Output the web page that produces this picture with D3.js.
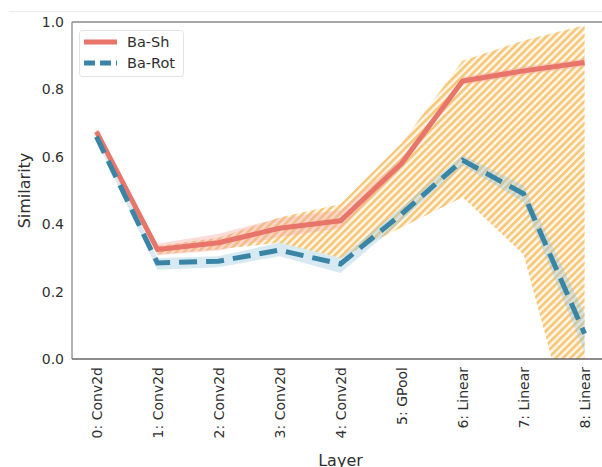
<!DOCTYPE html>
<html>
<head>
<meta charset="utf-8">
<script src="https://cdn.jsdelivr.net/npm/d3@7"></script>
<style>
  html, body { margin: 0; padding: 0; background: #fff; }
  svg { display: block; font-family: "DejaVu Sans", sans-serif; }
</style>
</head>
<body>
<svg id="chart" width="602" height="467"></svg>
<script>
// Layers along the network
const layers = ["0: Conv2d", "1: Conv2d", "2: Conv2d", "3: Conv2d", "4: Conv2d",
                "5: GPool", "6: Linear", "7: Linear", "8: Linear"];

// Ba-Sh similarity (mean and interval)
const baSh      = [0.675, 0.325, 0.345, 0.388, 0.410, 0.580, 0.825, 0.855, 0.880];
const baShLow   = [0.665, 0.308, 0.322, 0.362, 0.388, 0.568, 0.813, 0.843, 0.868];
const baShHigh  = [0.685, 0.342, 0.372, 0.418, 0.442, 0.595, 0.837, 0.867, 0.892];

// Ba-Rot similarity (mean and interval)
const baRot     = [0.660, 0.285, 0.290, 0.323, 0.282, 0.430, 0.590, 0.490, 0.075];
const baRotLow  = [0.650, 0.265, 0.272, 0.305, 0.255, 0.410, 0.575, 0.465, 0.020];
const baRotHigh = [0.670, 0.300, 0.305, 0.345, 0.300, 0.450, 0.605, 0.515, 0.135];

// Overall spread range (hatched)
const rangeLow  = [0.665, 0.310, 0.325, 0.345, 0.300, 0.390, 0.480, 0.310, -0.360];
const rangeHigh = [0.685, 0.335, 0.360, 0.420, 0.460, 0.640, 0.885, 0.945, 0.990];

const yTicks = [0.0, 0.2, 0.4, 0.6, 0.8, 1.0];

const svg = d3.select("#chart");
const plot = { left: 72, top: 22, right: 609, bottom: 359 };

const x = d3.scaleLinear().domain([-0.4, 8.4]).range([plot.left, plot.right]);
const y = d3.scaleLinear().domain([0, 1]).range([plot.bottom, plot.top]);

const idx = d3.range(layers.length);
const textColor = "#303030";

// faint frame line above the axes
svg.append("line")
  .attr("x1", 9).attr("x2", 602).attr("y1", 11.5).attr("y2", 11.5)
  .attr("stroke", "#ececec").attr("stroke-width", 1);

const defs = svg.append("defs");
defs.append("clipPath").attr("id", "plotClip")
  .append("rect")
  .attr("x", plot.left).attr("y", plot.top)
  .attr("width", plot.right - plot.left).attr("height", plot.bottom - plot.top);

const hatch = defs.append("pattern")
  .attr("id", "hatch")
  .attr("patternUnits", "userSpaceOnUse")
  .attr("width", 5.2).attr("height", 5.2)
  .attr("patternTransform", "rotate(-45)");
hatch.append("rect").attr("width", 5.2).attr("height", 5.2).attr("fill", "#fef6e8");
hatch.append("rect").attr("width", 5.2).attr("height", 2.7).attr("fill", "#f5c87c");

const g = svg.append("g").attr("clip-path", "url(#plotClip)");

const area = (lo, hi) => d3.area()
  .x(i => x(i)).y0(i => y(lo[i])).y1(i => y(hi[i]));
const line = vals => d3.line().x(i => x(i)).y(i => y(vals[i]));

// hatched range
g.append("path").datum(idx)
  .attr("d", area(rangeLow, rangeHigh))
  .attr("fill", "url(#hatch)");

// intervals
g.append("path").datum(idx)
  .attr("d", area(baShLow, baShHigh))
  .attr("fill", "#f4a8a0").attr("fill-opacity", 0.4);
g.append("path").datum(idx)
  .attr("d", area(baRotLow, baRotHigh))
  .attr("fill", "#9cc8dc").attr("fill-opacity", 0.4);

const red = "#e8756a";
const blue = "#3a85a5";

g.append("path").datum(idx)
  .attr("d", line(baSh))
  .attr("fill", "none").attr("stroke", red).attr("stroke-width", 5)
  .attr("stroke-linejoin", "round");
g.append("path").datum(idx)
  .attr("d", line(baRot))
  .attr("fill", "none").attr("stroke", blue).attr("stroke-width", 5)
  .attr("stroke-dasharray", "18,9");

// axes
const yAxis = d3.axisLeft(y).tickValues(yTicks).tickFormat(d3.format(".1f"))
  .tickSize(0).tickPadding(8);
const yg = svg.append("g").attr("transform", `translate(${plot.left},0)`).call(yAxis);
yg.select(".domain").remove();
yg.selectAll("text").attr("font-size", 14).attr("fill", textColor)
  .attr("font-family", "DejaVu Sans");

const xAxis = d3.axisBottom(x).tickValues(idx).tickFormat(i => layers[i])
  .tickSize(0).tickPadding(0);
const xg = svg.append("g").attr("transform", `translate(0,${plot.bottom})`).call(xAxis);
xg.select(".domain").remove();
xg.selectAll("text")
  .attr("font-size", 14).attr("fill", textColor).attr("font-family", "DejaVu Sans")
  .attr("text-anchor", "end")
  .attr("dy", "0.35em")
  .attr("transform", "translate(0,8) rotate(-90)")
  .attr("x", 0).attr("y", 0);

// spines
const spine = "#8a8a8a";
svg.append("line").attr("x1", plot.left).attr("x2", plot.left)
  .attr("y1", plot.top).attr("y2", plot.bottom)
  .attr("stroke", spine).attr("stroke-width", 1.3);
svg.append("line").attr("x1", plot.left).attr("x2", plot.right)
  .attr("y1", plot.bottom).attr("y2", plot.bottom)
  .attr("stroke", "#666").attr("stroke-width", 1.3);
svg.append("line").attr("x1", plot.left).attr("x2", plot.right)
  .attr("y1", plot.top).attr("y2", plot.top)
  .attr("stroke", spine).attr("stroke-width", 1.3);

// axis titles
svg.append("text")
  .attr("transform", `translate(24,${(plot.top + plot.bottom) / 2}) rotate(-90)`)
  .attr("text-anchor", "middle").attr("dy", "0.35em")
  .attr("font-size", 16).attr("fill", textColor).text("Similarity");
svg.append("text")
  .attr("x", (plot.left + plot.right) / 2).attr("y", 466)
  .attr("text-anchor", "middle")
  .attr("font-size", 16).attr("fill", textColor).text("Layer");

// legend
const lg = svg.append("g");
lg.append("rect").attr("x", 79.5).attr("y", 30.5).attr("width", 104).attr("height", 46)
  .attr("rx", 3).attr("fill", "#fff").attr("fill-opacity", 0.85)
  .attr("stroke", "#e2e2e2");
const legendItems = [
  { name: "Ba-Sh", color: red, dash: null },
  { name: "Ba-Rot", color: blue, dash: "11,5" }
];
legendItems.forEach((d, k) => {
  const yy = 42 + k * 21;
  lg.append("line").attr("x1", 84).attr("x2", 117).attr("y1", yy).attr("y2", yy)
    .attr("stroke", d.color).attr("stroke-width", 5)
    .attr("stroke-dasharray", d.dash);
  lg.append("text").attr("x", 127).attr("y", yy).attr("dy", "0.35em")
    .attr("font-size", 14.5).attr("fill", textColor).text(d.name);
});
</script>
</body>
</html>
